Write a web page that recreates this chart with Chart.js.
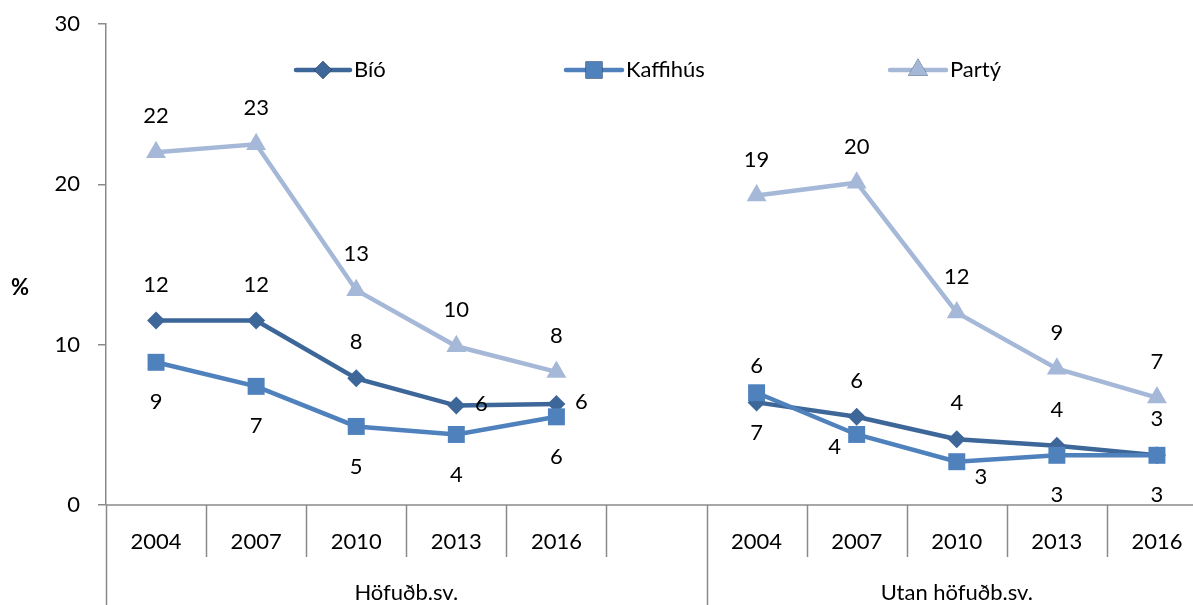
<!DOCTYPE html>
<html>
<head>
<meta charset="utf-8">
<script src="https://cdn.jsdelivr.net/npm/chart.js@4"></script>
<style>
  html, body { margin: 0; padding: 0; overflow: hidden; background: #fff; }
  #wrap { width: 1220px; height: 605px; position: relative; }
</style>
</head>
<body>
<div id="wrap"><canvas id="c" width="1220" height="605"></canvas></div>
<script>
// ---- data ----
const categories = ['2004','2007','2010','2013','2016','','2004','2007','2010','2013','2016'];
const groupLabels = ['Höfuðb.sv.','Utan höfuðb.sv.'];
const groupRanges = [[0,5],[6,10]];
const seriesNames = ['Bíó','Kaffihús','Partý'];
const bio   = [11.5, 11.5, 7.9, 6.2, 6.3, null, 6.4, 5.5, 4.1, 3.7, 3.1];
const kaffi = [8.9, 7.4, 4.9, 4.4, 5.5, null, 7.0, 4.4, 2.7, 3.1, 3.1];
const party = [22.0, 22.5, 13.4, 9.9, 8.3, null, 19.3, 20.1, 12.0, 8.5, 6.7];
const yTicks = [0, 10, 20, 30];
const yTitle = '%';

// label placement keywords (style, not data)
const bioPos   = ['above','above','above','right','right',null,'above','above','above','above','above'];
const kaffiPos = ['below','below','below','below','below',null,'below','belowLeft','belowRight','below','below'];
const partyPos = ['above','above','above','above','above',null,'above','above','above','above','above'];

const colors = ['#3D6699', '#4F81BD', '#A6B8D8'];
const FONT = 'Lato, "Open Sans", sans-serif';
const AXIS = '#8a8a8a';
const PLOT_RIGHT = 1207;

const offsets = {
  above: [0, -36], below: [0, 40], right: [25, -2],
  belowLeft: [-22, 12], belowRight: [24, 15]
};

const labelPlugin = {
  id: 'labels',
  afterDatasetsDraw(chart) {
    const ctx = chart.ctx;
    const posArrays = [bioPos, kaffiPos, partyPos];
    ctx.save();
    ctx.font = '22px ' + FONT;
    ctx.fillStyle = '#000';
    ctx.textAlign = 'center';
    ctx.textBaseline = 'middle';
    chart.data.datasets.forEach((ds, di) => {
      const meta = chart.getDatasetMeta(di);
      meta.data.forEach((pt, i) => {
        const v = ds.data[i];
        if (v === null || v === undefined) return;
        const off = offsets[posArrays[di][i]];
        ctx.fillText(String(Math.round(v)), pt.x + off[0], pt.y + off[1]);
      });
    });
    ctx.restore();
  },
  afterDraw(chart) {
    const ctx = chart.ctx;
    const area = chart.chartArea;
    const xs = chart.scales.x;
    const ys = chart.scales.y;
    const n = categories.length;
    const w = (area.right - area.left) / n;
    const y0 = ys.getPixelForValue(0);
    ctx.save();
    // x axis line
    ctx.strokeStyle = AXIS;
    ctx.lineWidth = 1.5;
    ctx.beginPath();
    ctx.moveTo(area.left, y0); ctx.lineTo(area.right, y0);
    ctx.stroke();
    // tick lines & separators
    const seps = new Set([0, groupRanges[1][0], n]);
    for (let i = 0; i <= n; i++) {
      const x = Math.round(area.left + i * w) + 0.5;
      ctx.beginPath();
      ctx.moveTo(x, y0);
      ctx.lineTo(x, seps.has(i) ? chart.height : y0 + 52);
      ctx.stroke();
    }
    // year labels
    ctx.fillStyle = '#000';
    ctx.font = '22px ' + FONT;
    ctx.textAlign = 'center';
    ctx.textBaseline = 'middle';
    categories.forEach((c, i) => {
      if (!c) return;
      ctx.fillText(c, xs.getPixelForValue(i), y0 + 37);
    });
    // group labels
    groupRanges.forEach((r, gi) => {
      const xl = area.left + r[0] * w;
      const xr = area.left + (r[1] + 1) * w;
      ctx.fillText(groupLabels[gi], (xl + xr) / 2, y0 + 88);
    });
    // y title
    ctx.font = 'bold 22px ' + FONT;
    ctx.fillText(yTitle, 20, (area.top + area.bottom) / 2 + 23);
    // legend
    const legend = [[296, 350], [566, 622], [890, 946]];
    const ly = 70;
    chart.data.datasets.forEach((ds, di) => {
      const [a, b] = legend[di];
      ctx.strokeStyle = ds.borderColor;
      ctx.lineWidth = ds.borderWidth;
      ctx.lineCap = 'round';
      ctx.beginPath(); ctx.moveTo(a, ly); ctx.lineTo(b, ly); ctx.stroke();
      Chart.helpers.drawPoint(ctx, {
        pointStyle: ds.pointStyle, radius: ds.pointRadius, rotation: 0, borderWidth: 0
      }, (a + b) / 2, ly);
      ctx.fillStyle = ds.backgroundColor;
      ctx.fill();
      ctx.fillStyle = '#000';
      ctx.textAlign = 'left';
      ctx.font = '22px ' + FONT;
      ctx.fillText(seriesNames[di], b + 4, ly);
    });
    ctx.restore();
  }
};

const mk = (name, data, color, style, radius, order) => ({
  label: name, data, borderColor: color, backgroundColor: color,
  borderWidth: 4.5, pointStyle: style, pointRadius: radius, pointHoverRadius: radius,
  pointBorderWidth: 0, pointBackgroundColor: color, spanGaps: false, tension: 0, order
});

const canvas = document.getElementById('c');
new Chart(canvas, {
  type: 'line',
  data: {
    labels: categories,
    datasets: [
      mk(seriesNames[0], bio, colors[0], 'rectRot', 9, 3),
      mk(seriesNames[1], kaffi, colors[1], 'rect', 12, 2),
      mk(seriesNames[2], party, colors[2], 'triangle', 11.5, 1)
    ]
  },
  options: {
    responsive: false,
    animation: false,
    events: [],
    devicePixelRatio: 1,
    layout: { padding: { top: 24, bottom: 100, left: 0, right: 1220 - PLOT_RIGHT } },
    plugins: { legend: { display: false }, tooltip: { enabled: false } },
    scales: {
      x: { type: 'category', display: false, offset: true },
      y: {
        min: 0, max: 30,
        afterFit(s) { s.width = 106; s.paddingTop = 0; s.paddingBottom = 0; },
        afterBuildTicks(s) { s.ticks = yTicks.map(v => ({ value: v })); },
        ticks: { font: { family: FONT, size: 22 }, color: '#000', padding: 18 },
        grid: { drawOnChartArea: false, drawTicks: true, tickLength: 8, color: AXIS, lineWidth: 1.5 },
        border: { color: AXIS, width: 1.5 }
      }
    }
  },
  plugins: [labelPlugin]
});
</script>
</body>
</html>
